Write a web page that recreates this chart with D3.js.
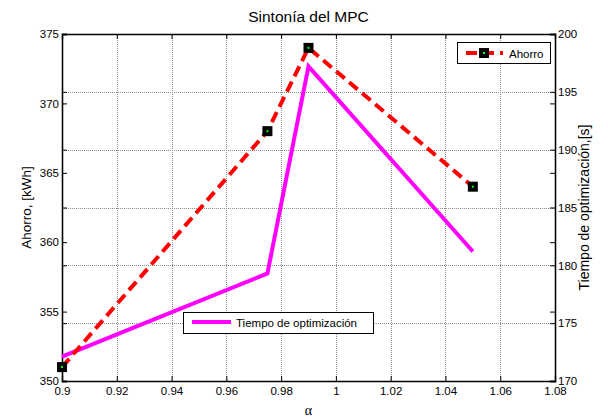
<!doctype html>
<html>
<head>
    <meta charset="utf-8">
    <title>Sintonía del MPC</title>
    <script src="https://d3js.org/d3.v7.min.js"></script>
    <style>
        body {
            margin: 0;
            background: white;
        }

        text {
            font-family: 'Liberation Sans', Arial, sans-serif;
        }
    </style>
</head>
<body>
    <div id="chart"></div>
    <script>
        // data
        var alpha = [0.9, 0.975, 0.99, 1.05];
        var ahorro = [351, 368, 374, 364];
        var tiempo = [172.1, 179.3, 197.2, 181.2];
        var xTicks = [0.9, 0.92, 0.94, 0.96, 0.98, 1, 1.02, 1.04, 1.06, 1.08];
        var leftTicks = [350, 355, 360, 365, 370, 375];
        var rightTicks = [170, 175, 180, 185, 190, 195, 200];

        var margin = { top: 34, right: 53, bottom: 38, left: 62 },
            width = 608 - margin.left - margin.right,
            height = 419 - margin.top - margin.bottom;

        var svg = d3.select("#chart")
            .append("svg")
            .attr("width", 608)
            .attr("height", 419)
            .append("g")
            .attr("transform", "translate(" + margin.left + "," + margin.top + ")");

        var x = d3.scaleLinear().domain([0.9, 1.08]).range([0, width]);
        var yL = d3.scaleLinear().domain([350, 375]).range([height, 0]);
        var yR = d3.scaleLinear().domain([170, 200]).range([height, 0]);

        // grid (vertical at x ticks, horizontal at right axis ticks)
        var grid = svg.append("g")
            .attr("stroke", "#8c8c8c")
            .attr("stroke-width", 1)
            .attr("stroke-dasharray", "1,1");
        grid.selectAll(".gx")
            .data(xTicks.slice(1, -1))
            .enter().append("line")
            .attr("x1", function (d) { return Math.round(x(d)) + 0.5; })
            .attr("x2", function (d) { return Math.round(x(d)) + 0.5; })
            .attr("y1", 0).attr("y2", height);
        grid.selectAll(".gy")
            .data(rightTicks.slice(1, -1))
            .enter().append("line")
            .attr("x1", 0).attr("x2", width)
            .attr("y1", function (d) { return Math.round(yR(d)) + 0.5; })
            .attr("y2", function (d) { return Math.round(yR(d)) + 0.5; });

        // axes, matlab style: ticks inside
        function fmt(d) { return d3.format("")(+d.toFixed(2)); }

        svg.append("g")
            .attr("transform", "translate(0," + height + ")")
            .call(d3.axisBottom(x).tickValues(xTicks).tickSize(-5).tickPadding(6).tickFormat(fmt));
        svg.append("g")
            .call(d3.axisTop(x).tickValues(xTicks).tickSize(-5).tickFormat(""));
        svg.append("g")
            .call(d3.axisLeft(yL).tickValues(leftTicks).tickSize(-5).tickPadding(3));
        svg.append("g")
            .call(d3.axisLeft(yR).tickValues(rightTicks).tickSize(-5).tickFormat(""));
        svg.append("g")
            .attr("transform", "translate(" + width + ",0)")
            .call(d3.axisRight(yR).tickValues(rightTicks).tickSize(-5).tickPadding(3));
        svg.append("g")
            .attr("transform", "translate(" + width + ",0)")
            .call(d3.axisRight(yL).tickValues(leftTicks).tickSize(-5).tickFormat(""));

        svg.selectAll(".domain").attr("stroke", "#000").attr("stroke-width", 1.3);
        svg.selectAll(".tick text").attr("font-size", 11.5).attr("fill", "#000")
            .style("font-family", "'Liberation Sans', Arial, sans-serif");

        // tiempo line (right axis)
        svg.append("path")
            .datum(alpha.map(function (a, i) { return [a, tiempo[i]]; }))
            .attr("d", d3.line()
                .x(function (d) { return x(d[0]); })
                .y(function (d) { return yR(d[1]); }))
            .attr("fill", "none")
            .attr("stroke", "#ff00ff")
            .attr("stroke-width", 4);

        // ahorro line (left axis)
        svg.append("path")
            .datum(alpha.map(function (a, i) { return [a, ahorro[i]]; }))
            .attr("d", d3.line()
                .x(function (d) { return x(d[0]); })
                .y(function (d) { return yL(d[1]); }))
            .attr("fill", "none")
            .attr("stroke", "#ff0000")
            .attr("stroke-width", 4)
            .attr("stroke-dasharray", "11,6");

        function marker(g, cx, cy) {
            g.append("rect")
                .attr("x", cx - 5).attr("y", cy - 5)
                .attr("width", 10).attr("height", 10)
                .attr("fill", "#000");
            g.append("rect")
                .attr("x", cx - 1).attr("y", cy - 1)
                .attr("width", 2).attr("height", 2)
                .attr("fill", "#00ff00");
        }

        alpha.forEach(function (a, i) {
            marker(svg, x(a), yL(ahorro[i]));
        });

        // title and labels
        var root = d3.select("svg");
        root.append("text")
            .attr("x", margin.left + width / 2).attr("y", 22)
            .attr("text-anchor", "middle")
            .attr("font-size", 15.5)
            .text("Sintonía del MPC");

        root.append("text")
            .attr("transform", "translate(31," + (margin.top + height / 2) + ") rotate(-90)")
            .attr("text-anchor", "middle")
            .attr("font-size", 13.5)
            .text("Ahorro, [kWh]");

        root.append("text")
            .attr("transform", "translate(589," + (margin.top + height / 2) + ") rotate(-90)")
            .attr("text-anchor", "middle")
            .attr("font-size", 14)
            .text("Tiempo de optimización,[s]");

        root.append("text")
            .attr("x", margin.left + width / 2).attr("y", 415)
            .attr("text-anchor", "middle")
            .attr("font-size", 14)
            .style("font-family", "'Liberation Serif', 'Times New Roman', serif")
            .text("α");

        // legend ahorro
        var lg1 = root.append("g");
        lg1.append("rect")
            .attr("x", 457.5).attr("y", 42.5).attr("width", 93).attr("height", 21)
            .attr("fill", "#fff").attr("stroke", "#000");
        lg1.append("line")
            .attr("x1", 466).attr("x2", 503).attr("y1", 53).attr("y2", 53)
            .attr("stroke", "#ff0000").attr("stroke-width", 4)
            .attr("stroke-dasharray", "11,6");
        marker(lg1, 484, 53);
        lg1.append("text")
            .attr("x", 509).attr("y", 57.5)
            .attr("font-size", 11.5)
            .text("Ahorro");

        // legend tiempo
        var lg2 = root.append("g");
        lg2.append("rect")
            .attr("x", 183.5).attr("y", 312.5).attr("width", 190).attr("height", 21)
            .attr("fill", "#fff").attr("stroke", "#000");
        lg2.append("line")
            .attr("x1", 192).attr("x2", 231).attr("y1", 322).attr("y2", 322)
            .attr("stroke", "#ff00ff").attr("stroke-width", 4);
        lg2.append("text")
            .attr("x", 236).attr("y", 327)
            .attr("font-size", 11.5)
            .text("Tiempo de optimización");
    </script>
</body>
</html>
